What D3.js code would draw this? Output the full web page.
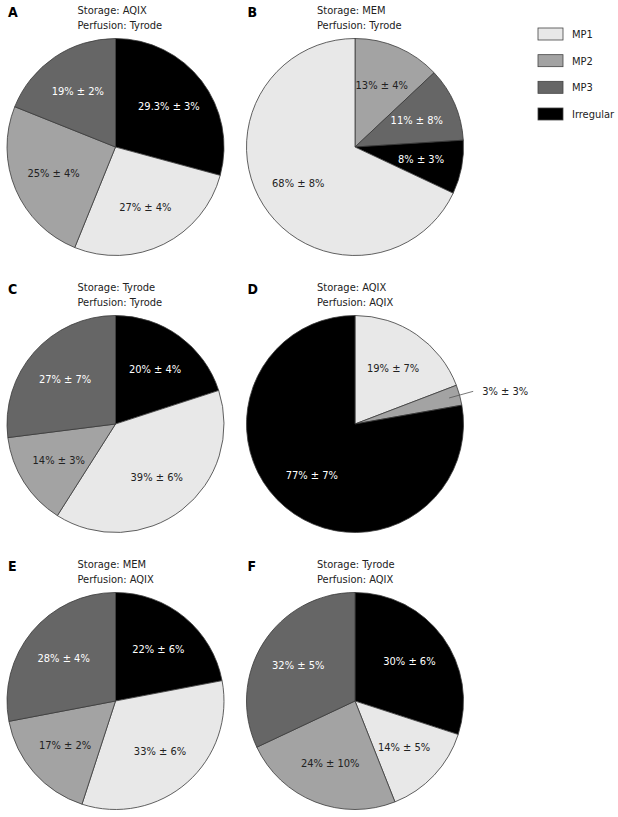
<!DOCTYPE html>
<html><head><meta charset="utf-8">
<script src="https://cdn.jsdelivr.net/npm/d3@7"></script>
<style>
html,body{margin:0;padding:0;background:#fff;}
text{font-family:"DejaVu Sans Condensed","DejaVu Sans",sans-serif;}
</style></head>
<body><svg id="chart" width="618" height="817"></svg>
<script>
// ---- data ----
const categories = ["MP1", "MP2", "MP3", "Irregular"];
const panelLetters = ["A", "B", "C", "D", "E", "F"];
const storage = ["AQIX", "MEM", "Tyrode", "AQIX", "MEM", "Tyrode"];
const perfusion = ["Tyrode", "Tyrode", "Tyrode", "AQIX", "AQIX", "AQIX"];
const mp1 = [27, 68, 39, 19, 33, 14];
const mp2 = [25, 13, 14, 3, 17, 24];
const mp3 = [19, 11, 27, 0, 28, 32];
const irregular = [29.3, 8, 20, 77, 22, 30];
const mp1SD = [4, 8, 6, 7, 6, 5];
const mp2SD = [4, 4, 3, 3, 2, 10];
const mp3SD = [2, 8, 7, 0, 4, 5];
const irregularSD = [3, 3, 4, 7, 6, 6];
// category that begins at 12 o'clock in each panel (order is cyclic)
const firstSlice = ["Irregular", "MP2", "Irregular", "MP1", "Irregular", "Irregular"];

// ---- styles / layout ----
const colors = {"MP1": "#e8e8e8", "MP2": "#a3a3a3", "MP3": "#666666", "Irregular": "#000000"};
const textColors = {"MP1": "#222", "MP2": "#222", "MP3": "#fff", "Irregular": "#fff"};
const colX = [115.5, 355];
const rowY = [147, 424, 701];
const R = 108.5;

const svg = d3.select("#chart");
svg.append("rect").attr("width", 618).attr("height", 817).attr("fill", "#fff");

const values = [mp1, mp2, mp3, irregular];
const sds = [mp1SD, mp2SD, mp3SD, irregularSD];

const arc = d3.arc().innerRadius(0).outerRadius(R);
const labelArc = d3.arc().innerRadius(R * 0.62).outerRadius(R * 0.62);

panelLetters.forEach((letter, p) => {
  const cx = colX[p % 2], cy = rowY[Math.floor(p / 2)];
  const start = categories.indexOf(firstSlice[p]);
  const ordered = d3.range(4).map(k => (start + k) % 4);
  const data = ordered.map(ci => ({cat: categories[ci], value: values[ci][p], sd: sds[ci][p]}))
    .filter(d => d.value > 0);
  const pie = d3.pie().sort(null).value(d => d.value);
  const arcs = pie(data);

  const g = svg.append("g").attr("transform", `translate(${cx},${cy})`);
  g.selectAll("path.slice").data(arcs).join("path")
    .attr("class", "slice")
    .attr("d", arc)
    .attr("fill", d => colors[d.data.cat])
    .attr("stroke", "#3a3a3a")
    .attr("stroke-width", 0.8);

  arcs.forEach(a => {
    const txt = `${a.data.value}% ± ${a.data.sd}%`;
    const mid = (a.startAngle + a.endAngle) / 2;
    if (a.data.value < 5) {
      const p1 = [Math.sin(mid) * R * 0.9, -Math.cos(mid) * R * 0.9];
      const p2 = [Math.sin(mid) * R * 1.13, -Math.cos(mid) * R * 1.13];
      g.append("line").attr("x1", p1[0]).attr("y1", p1[1]).attr("x2", p2[0]).attr("y2", p2[1])
        .attr("stroke", "#555").attr("stroke-width", 0.8);
      g.append("text").attr("x", p2[0] + 9).attr("y", p2[1]).attr("dy", "0.35em")
        .attr("font-size", 11).attr("fill", "#222").text(txt);
    } else {
      const c = labelArc.centroid(a);
      g.append("text").attr("x", c[0]).attr("y", c[1]).attr("dy", "0.35em")
        .attr("text-anchor", "middle").attr("font-size", 11)
        .attr("fill", textColors[a.data.cat]).text(txt);
    }
  });

  svg.append("text").attr("x", cx - 107.5).attr("y", cy - 130)
    .attr("font-size", 14).attr("font-weight", "bold").attr("fill", "#000")
    .attr("font-family", "DejaVu Sans").text(letter);
  svg.append("text").attr("x", cx - 38).attr("y", cy - 133)
    .attr("font-size", 11).attr("fill", "#222").text(`Storage: ${storage[p]}`);
  svg.append("text").attr("x", cx - 38).attr("y", cy - 118.5)
    .attr("font-size", 11).attr("fill", "#222").text(`Perfusion: ${perfusion[p]}`);
});

// ---- legend ----
const legY = d3.scalePoint().domain(categories).range([34, 114]);
const leg = svg.append("g");
categories.forEach(c => {
  leg.append("rect").attr("x", 538).attr("y", legY(c) - 6).attr("width", 25).attr("height", 12)
    .attr("fill", colors[c]).attr("stroke", "#444").attr("stroke-width", 0.8);
  leg.append("text").attr("x", 572).attr("y", legY(c)).attr("dy", "0.35em")
    .attr("font-size", 11).attr("fill", "#222").text(c);
});
</script></body></html>
